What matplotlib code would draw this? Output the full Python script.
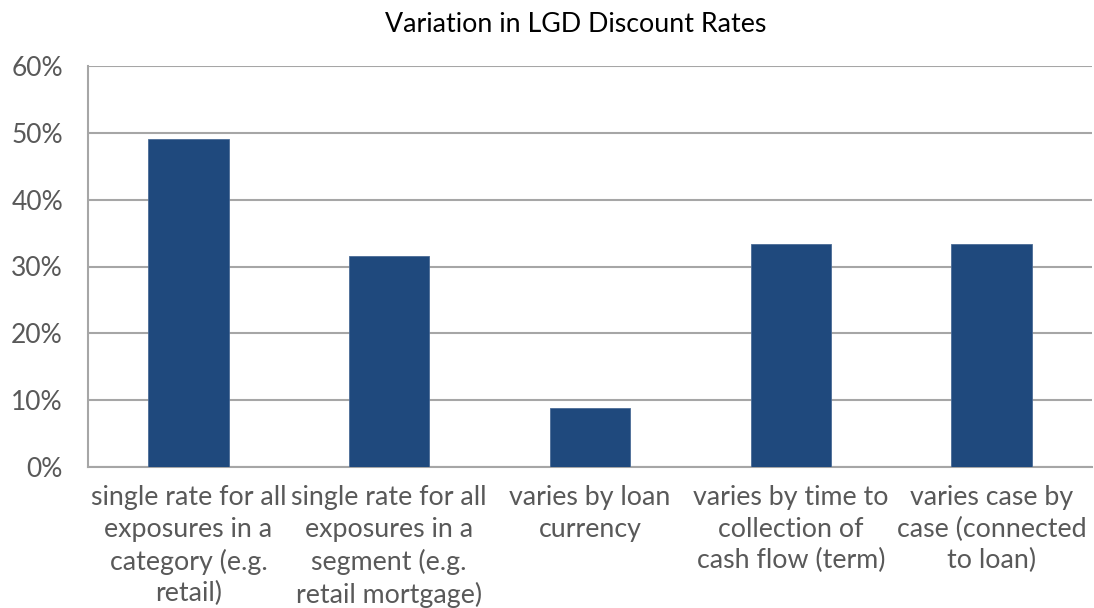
import matplotlib
matplotlib.use("Agg")
import matplotlib.pyplot as plt
from matplotlib.ticker import PercentFormatter

categories = [
    "single rate for all\nexposures in a\ncategory (e.g.\nretail)",
    "single rate for all\nexposures in a\nsegment (e.g.\nretail mortgage)",
    "varies by loan\ncurrency",
    "varies by time to\ncollection of\ncash flow (term)",
    "varies case by\ncase (connected\nto loan)",
]
values = [49.1, 31.6, 8.8, 33.3, 33.3]
yticks = [0, 10, 20, 30, 40, 50, 60]
title = "Variation in LGD Discount Rates"

plt.rcParams['font.family'] = ['Lato', 'DejaVu Sans']

fig = plt.figure(figsize=(10.94, 6.08), dpi=100)
ax = fig.add_axes([88/1094, 1 - 467/608, (1092-88)/1094, (467-66)/608])

x = range(len(categories))
ax.bar(x, values, width=0.4, color="#1F497D", edgecolor="#4A6B96", linewidth=0.6, zorder=3)
ax.set_xlim(-0.5, len(categories) - 0.5)
ax.set_ylim(0, 60)
ax.set_yticks(yticks)
ax.yaxis.set_major_formatter(PercentFormatter(decimals=0))
ax.set_xticks(list(x))
ax.set_xticklabels(categories, fontsize=19.3, color="#595959", linespacing=1.33)
ax.tick_params(axis='y', labelsize=19, labelcolor="#595959", length=0, pad=18)
ax.tick_params(axis='x', length=0, pad=13)
ax.grid(axis='y', color="#A6A6A6", linewidth=1.5, zorder=0)
for s in ["top", "right"]:
    ax.spines[s].set_visible(False)
for s in ["left", "bottom"]:
    ax.spines[s].set_color("#A6A6A6")
    ax.spines[s].set_linewidth(1.5)
fig.text(576/1094, 1 - 25/608, title, ha="center", va="center", fontsize=19.3, color="black")

fig.savefig("out.png", dpi=100)
